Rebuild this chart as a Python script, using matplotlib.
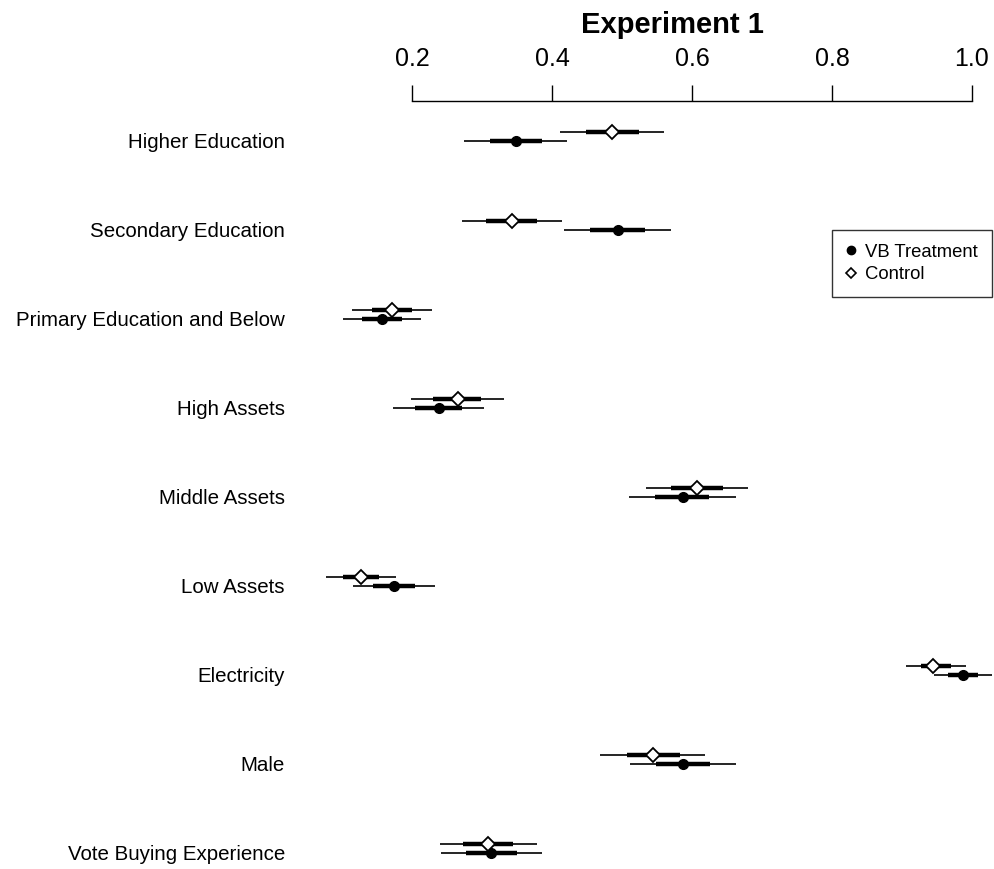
import matplotlib

matplotlib.use("Agg")

import matplotlib.pyplot as plt
from matplotlib.lines import Line2D

plt.rcParams["font.family"] = ["Liberation Sans", "DejaVu Sans"]

LABELS = [
    "Higher Education",
    "Secondary Education",
    "Primary Education and Below",
    "High Assets",
    "Middle Assets",
    "Low Assets",
    "Electricity",
    "Male",
    "Vote Buying Experience",
]

# VB treatment: point estimate, 95% interval, inner (thick) interval
TREAT_EST = [0.349, 0.494, 0.157, 0.239, 0.587, 0.174, 0.987, 0.587, 0.313]
TREAT_LO = [0.274, 0.417, 0.101, 0.173, 0.510, 0.116, 0.946, 0.511, 0.241]
TREAT_HI = [0.421, 0.570, 0.213, 0.303, 0.663, 0.233, 1.029, 0.663, 0.386]
TREAT_LO_IN = [0.311, 0.454, 0.129, 0.204, 0.547, 0.144, 0.966, 0.549, 0.277]
TREAT_HI_IN = [0.386, 0.533, 0.186, 0.271, 0.624, 0.204, 1.009, 0.626, 0.350]

# Control
CTRL_EST = [0.486, 0.343, 0.171, 0.266, 0.607, 0.127, 0.944, 0.544, 0.309]
CTRL_LO = [0.411, 0.271, 0.114, 0.199, 0.534, 0.077, 0.906, 0.469, 0.240]
CTRL_HI = [0.560, 0.414, 0.229, 0.331, 0.680, 0.177, 0.991, 0.619, 0.379]
CTRL_LO_IN = [0.449, 0.306, 0.143, 0.230, 0.570, 0.101, 0.927, 0.507, 0.273]
CTRL_HI_IN = [0.524, 0.379, 0.200, 0.299, 0.644, 0.153, 0.970, 0.583, 0.344]

XTICKS = [0.2, 0.4, 0.6, 0.8, 1.0]

W, H = 994, 869
fig = plt.figure(figsize=(W / 100, H / 100), dpi=100)

# axes placed so that 0.2 -> px 412 and 1.0 -> px 972, top spine at px 101
XMIN, XMAX = 0.05, 1.03
ax_left = 412 - (0.2 - XMIN) * 700
ax_width = (XMAX - XMIN) * 700
ax_top = 101
ax = fig.add_axes([ax_left / W, 0, ax_width / W, (H - ax_top) / H])

rows = list(range(len(LABELS)))
ctrl_rows = [r - 0.101 for r in rows]

ax.hlines(rows, TREAT_LO, TREAT_HI, color="black", lw=1.2, zorder=2)
ax.hlines(rows, TREAT_LO_IN, TREAT_HI_IN, color="black", lw=3.2, zorder=2)
ax.plot(TREAT_EST, rows, "o", color="black", ms=7, zorder=3)

ax.hlines(ctrl_rows, CTRL_LO, CTRL_HI, color="black", lw=1.2, zorder=2)
ax.hlines(ctrl_rows, CTRL_LO_IN, CTRL_HI_IN, color="black", lw=3.2, zorder=2)
ax.plot(CTRL_EST, ctrl_rows, "D", mfc="white", mec="black", mew=1.3, ms=7, zorder=3)

ax.set_xlim(XMIN, XMAX)
ax.set_ylim(8.18, -0.449)

for side in ("left", "right", "bottom"):
    ax.spines[side].set_visible(False)
ax.spines["top"].set_bounds(0.2, 1.0)
ax.spines["top"].set_linewidth(1.0)

ax.xaxis.tick_top()
ax.set_xticks(XTICKS)
ax.set_xticklabels([f"{t:.1f}" for t in XTICKS])
ax.tick_params(axis="x", direction="out", length=11.5, width=1.0, labelsize=18, pad=10)

ax.set_yticks(rows)
ax.set_yticklabels(LABELS)
ax.tick_params(axis="y", length=0, labelsize=14.8, pad=16)

fig.text(672 / W, 1 - 25 / H, "Experiment 1", ha="center", va="center",
         fontsize=21, fontweight="bold")

handles = [
    Line2D([], [], marker="o", ls="", color="black", ms=6),
    Line2D([], [], marker="D", ls="", mfc="white", mec="black", mew=1.2, ms=5),
]
leg = ax.legend(
    handles, ["VB Treatment", "Control"], loc="upper left",
    bbox_to_anchor=((832 - ax_left) / ax_width, 1 - (230 - ax_top) / (H - ax_top)),
    borderaxespad=0, fontsize=13.3, frameon=True, fancybox=False,
    handlelength=0.6, handletextpad=0.45, borderpad=0.75, labelspacing=0.28)
leg.get_frame().set_edgecolor("black")
leg.get_frame().set_linewidth(1.0)

fig.savefig("out.png", dpi=100)
